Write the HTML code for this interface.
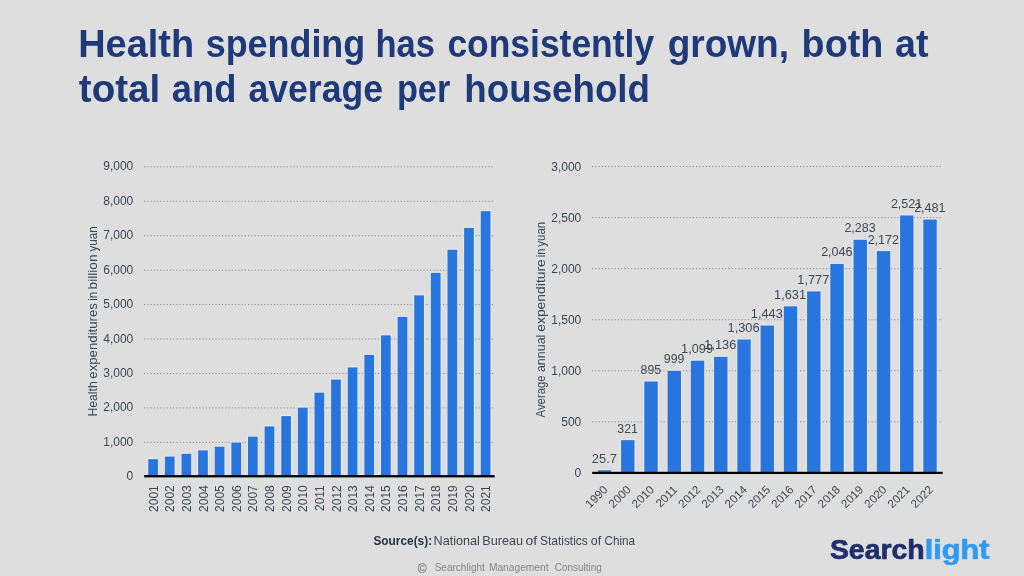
<!DOCTYPE html>
<html lang="en">
<head>
<meta charset="utf-8">
<title>Health spending has consistently grown</title>
<style>
html,body{margin:0;padding:0;}
body{width:1024px;height:576px;overflow:hidden;background:#dedede;font-family:"Liberation Sans",sans-serif;}
svg{display:block;position:absolute;left:0;top:0;}
text{font-family:"Liberation Sans",sans-serif;}
.title{font-weight:bold;font-size:38px;fill:#1f3a7a;}
.ax{font-size:12px;fill:#3f4755;}
.src{font-size:12.6px;fill:#3f4755;}
.copy{font-size:10px;fill:#868686;}
.logo{font-weight:bold;font-size:28.5px;stroke-width:0.7px;stroke-linejoin:round;}
</style>
</head>
<body>
<svg width="1024" height="576" viewBox="0 0 1024 576">
<rect x="0" y="0" width="1024" height="576" fill="#dedede"/>

<g class="title">
<text y="56.80"><tspan x="78.15" textLength="115.93" lengthAdjust="spacingAndGlyphs">Health</tspan> <tspan x="205.78" textLength="159.41" lengthAdjust="spacingAndGlyphs">spending</tspan> <tspan x="375.41" textLength="59.39" lengthAdjust="spacingAndGlyphs">has</tspan> <tspan x="447.40" textLength="206.72" lengthAdjust="spacingAndGlyphs">consistently</tspan> <tspan x="667.64" textLength="121.34" lengthAdjust="spacingAndGlyphs">grown,</tspan> <tspan x="801.62" textLength="81.66" lengthAdjust="spacingAndGlyphs">both</tspan> <tspan x="895.01" textLength="33.43" lengthAdjust="spacingAndGlyphs">at</tspan></text>
<text y="102.40"><tspan x="78.89" textLength="81.31" lengthAdjust="spacingAndGlyphs">total</tspan> <tspan x="171.84" textLength="64.61" lengthAdjust="spacingAndGlyphs">and</tspan> <tspan x="248.46" textLength="134.53" lengthAdjust="spacingAndGlyphs">average</tspan> <tspan x="396.89" textLength="53.38" lengthAdjust="spacingAndGlyphs">per</tspan> <tspan x="464.34" textLength="185.68" lengthAdjust="spacingAndGlyphs">household</tspan></text>
</g>
<g class="ax">
<line x1="144.0" y1="442.36" x2="494.8" y2="442.36" stroke="#858585" stroke-width="1" stroke-dasharray="1.1 2.15"/>
<line x1="144.0" y1="407.92" x2="494.8" y2="407.92" stroke="#858585" stroke-width="1" stroke-dasharray="1.1 2.15"/>
<line x1="144.0" y1="373.48" x2="494.8" y2="373.48" stroke="#858585" stroke-width="1" stroke-dasharray="1.1 2.15"/>
<line x1="144.0" y1="339.04" x2="494.8" y2="339.04" stroke="#858585" stroke-width="1" stroke-dasharray="1.1 2.15"/>
<line x1="144.0" y1="304.60" x2="494.8" y2="304.60" stroke="#858585" stroke-width="1" stroke-dasharray="1.1 2.15"/>
<line x1="144.0" y1="270.16" x2="494.8" y2="270.16" stroke="#858585" stroke-width="1" stroke-dasharray="1.1 2.15"/>
<line x1="144.0" y1="235.72" x2="494.8" y2="235.72" stroke="#858585" stroke-width="1" stroke-dasharray="1.1 2.15"/>
<line x1="144.0" y1="201.28" x2="494.8" y2="201.28" stroke="#858585" stroke-width="1" stroke-dasharray="1.1 2.15"/>
<line x1="144.0" y1="166.84" x2="494.8" y2="166.84" stroke="#858585" stroke-width="1" stroke-dasharray="1.1 2.15"/>
<text x="133.3" y="480.30" text-anchor="end">0</text>
<text x="133.3" y="445.86" text-anchor="end">1,000</text>
<text x="133.3" y="411.42" text-anchor="end">2,000</text>
<text x="133.3" y="376.98" text-anchor="end">3,000</text>
<text x="133.3" y="342.54" text-anchor="end">4,000</text>
<text x="133.3" y="308.10" text-anchor="end">5,000</text>
<text x="133.3" y="273.66" text-anchor="end">6,000</text>
<text x="133.3" y="239.22" text-anchor="end">7,000</text>
<text x="133.3" y="204.78" text-anchor="end">8,000</text>
<text x="133.3" y="170.34" text-anchor="end">9,000</text>
<rect x="148.26" y="459.19" width="9.7" height="17.31" fill="#2876dd" stroke="#eef2fa" stroke-opacity="0.55" stroke-width="2" paint-order="stroke"/>
<text transform="translate(157.71,485.2) rotate(-90)" text-anchor="end">2001</text>
<rect x="164.89" y="456.56" width="9.7" height="19.94" fill="#2876dd" stroke="#eef2fa" stroke-opacity="0.55" stroke-width="2" paint-order="stroke"/>
<text transform="translate(174.34,485.2) rotate(-90)" text-anchor="end">2002</text>
<rect x="181.51" y="453.82" width="9.7" height="22.68" fill="#2876dd" stroke="#eef2fa" stroke-opacity="0.55" stroke-width="2" paint-order="stroke"/>
<text transform="translate(190.96,485.2) rotate(-90)" text-anchor="end">2003</text>
<rect x="198.13" y="450.36" width="9.7" height="26.14" fill="#2876dd" stroke="#eef2fa" stroke-opacity="0.55" stroke-width="2" paint-order="stroke"/>
<text transform="translate(207.58,485.2) rotate(-90)" text-anchor="end">2004</text>
<rect x="214.76" y="446.68" width="9.7" height="29.82" fill="#2876dd" stroke="#eef2fa" stroke-opacity="0.55" stroke-width="2" paint-order="stroke"/>
<text transform="translate(224.21,485.2) rotate(-90)" text-anchor="end">2005</text>
<rect x="231.38" y="442.60" width="9.7" height="33.90" fill="#2876dd" stroke="#eef2fa" stroke-opacity="0.55" stroke-width="2" paint-order="stroke"/>
<text transform="translate(240.83,485.2) rotate(-90)" text-anchor="end">2006</text>
<rect x="248.00" y="436.64" width="9.7" height="39.86" fill="#2876dd" stroke="#eef2fa" stroke-opacity="0.55" stroke-width="2" paint-order="stroke"/>
<text transform="translate(257.45,485.2) rotate(-90)" text-anchor="end">2007</text>
<rect x="264.63" y="426.44" width="9.7" height="50.06" fill="#2876dd" stroke="#eef2fa" stroke-opacity="0.55" stroke-width="2" paint-order="stroke"/>
<text transform="translate(274.08,485.2) rotate(-90)" text-anchor="end">2008</text>
<rect x="281.25" y="416.09" width="9.7" height="60.41" fill="#2876dd" stroke="#eef2fa" stroke-opacity="0.55" stroke-width="2" paint-order="stroke"/>
<text transform="translate(290.70,485.2) rotate(-90)" text-anchor="end">2009</text>
<rect x="297.88" y="407.69" width="9.7" height="68.81" fill="#2876dd" stroke="#eef2fa" stroke-opacity="0.55" stroke-width="2" paint-order="stroke"/>
<text transform="translate(307.33,485.2) rotate(-90)" text-anchor="end">2010</text>
<rect x="314.50" y="392.65" width="9.7" height="83.85" fill="#2876dd" stroke="#eef2fa" stroke-opacity="0.55" stroke-width="2" paint-order="stroke"/>
<text transform="translate(323.95,485.2) rotate(-90)" text-anchor="end">2011</text>
<rect x="331.12" y="379.66" width="9.7" height="96.84" fill="#2876dd" stroke="#eef2fa" stroke-opacity="0.55" stroke-width="2" paint-order="stroke"/>
<text transform="translate(340.57,485.2) rotate(-90)" text-anchor="end">2012</text>
<rect x="347.75" y="367.43" width="9.7" height="109.07" fill="#2876dd" stroke="#eef2fa" stroke-opacity="0.55" stroke-width="2" paint-order="stroke"/>
<text transform="translate(357.20,485.2) rotate(-90)" text-anchor="end">2013</text>
<rect x="364.37" y="354.88" width="9.7" height="121.62" fill="#2876dd" stroke="#eef2fa" stroke-opacity="0.55" stroke-width="2" paint-order="stroke"/>
<text transform="translate(373.82,485.2) rotate(-90)" text-anchor="end">2014</text>
<rect x="381.00" y="335.38" width="9.7" height="141.12" fill="#2876dd" stroke="#eef2fa" stroke-opacity="0.55" stroke-width="2" paint-order="stroke"/>
<text transform="translate(390.45,485.2) rotate(-90)" text-anchor="end">2015</text>
<rect x="397.62" y="316.89" width="9.7" height="159.61" fill="#2876dd" stroke="#eef2fa" stroke-opacity="0.55" stroke-width="2" paint-order="stroke"/>
<text transform="translate(407.07,485.2) rotate(-90)" text-anchor="end">2016</text>
<rect x="414.24" y="295.35" width="9.7" height="181.15" fill="#2876dd" stroke="#eef2fa" stroke-opacity="0.55" stroke-width="2" paint-order="stroke"/>
<text transform="translate(423.69,485.2) rotate(-90)" text-anchor="end">2017</text>
<rect x="430.87" y="272.88" width="9.7" height="203.62" fill="#2876dd" stroke="#eef2fa" stroke-opacity="0.55" stroke-width="2" paint-order="stroke"/>
<text transform="translate(440.32,485.2) rotate(-90)" text-anchor="end">2018</text>
<rect x="447.49" y="249.74" width="9.7" height="226.76" fill="#2876dd" stroke="#eef2fa" stroke-opacity="0.55" stroke-width="2" paint-order="stroke"/>
<text transform="translate(456.94,485.2) rotate(-90)" text-anchor="end">2019</text>
<rect x="464.11" y="227.93" width="9.7" height="248.57" fill="#2876dd" stroke="#eef2fa" stroke-opacity="0.55" stroke-width="2" paint-order="stroke"/>
<text transform="translate(473.56,485.2) rotate(-90)" text-anchor="end">2020</text>
<rect x="480.74" y="211.14" width="9.7" height="265.36" fill="#2876dd" stroke="#eef2fa" stroke-opacity="0.55" stroke-width="2" paint-order="stroke"/>
<text transform="translate(490.19,485.2) rotate(-90)" text-anchor="end">2021</text>
<rect x="144.2" y="475.1" width="350.5" height="2.3" fill="#000"/>
<text transform="translate(97.00,416.30) rotate(-90)" y="0"><tspan x="-0.32" textLength="35.37" lengthAdjust="spacingAndGlyphs">Health</tspan> <tspan x="37.65" textLength="75.57" lengthAdjust="spacingAndGlyphs">expenditures</tspan> <tspan x="115.57" textLength="9.04" lengthAdjust="spacingAndGlyphs">in</tspan> <tspan x="126.90" textLength="34.88" lengthAdjust="spacingAndGlyphs">billion</tspan> <tspan x="164.70" textLength="25.26" lengthAdjust="spacingAndGlyphs">yuan</tspan></text>
</g>
<g class="ax">
<line x1="592.0" y1="421.84" x2="942.8" y2="421.84" stroke="#858585" stroke-width="1" stroke-dasharray="1.1 2.15"/>
<line x1="592.0" y1="370.78" x2="942.8" y2="370.78" stroke="#858585" stroke-width="1" stroke-dasharray="1.1 2.15"/>
<line x1="592.0" y1="319.72" x2="942.8" y2="319.72" stroke="#858585" stroke-width="1" stroke-dasharray="1.1 2.15"/>
<line x1="592.0" y1="268.66" x2="942.8" y2="268.66" stroke="#858585" stroke-width="1" stroke-dasharray="1.1 2.15"/>
<line x1="592.0" y1="217.60" x2="942.8" y2="217.60" stroke="#858585" stroke-width="1" stroke-dasharray="1.1 2.15"/>
<line x1="592.0" y1="166.54" x2="942.8" y2="166.54" stroke="#858585" stroke-width="1" stroke-dasharray="1.1 2.15"/>
<text x="581.3" y="477.10" text-anchor="end">0</text>
<text x="581.3" y="426.04" text-anchor="end">500</text>
<text x="581.3" y="374.98" text-anchor="end">1,000</text>
<text x="581.3" y="323.92" text-anchor="end">1,500</text>
<text x="581.3" y="272.86" text-anchor="end">2,000</text>
<text x="581.3" y="221.80" text-anchor="end">2,500</text>
<text x="581.3" y="170.74" text-anchor="end">3,000</text>
<rect x="597.82" y="470.28" width="13.4" height="2.62" fill="#2876dd" stroke="#eef2fa" stroke-opacity="0.55" stroke-width="2" paint-order="stroke"/>
<text x="591.89" y="462.78" textLength="24.99" lengthAdjust="spacingAndGlyphs">25.7</text>
<text transform="translate(608.32,490.4) rotate(-45)" text-anchor="end" font-size="11.6">1990</text>
<rect x="621.07" y="440.12" width="13.4" height="32.78" fill="#2876dd" stroke="#eef2fa" stroke-opacity="0.55" stroke-width="2" paint-order="stroke"/>
<text x="617.31" y="432.62" textLength="20.56" lengthAdjust="spacingAndGlyphs">321</text>
<text transform="translate(631.57,490.4) rotate(-45)" text-anchor="end" font-size="11.6">2000</text>
<rect x="644.32" y="381.50" width="13.4" height="91.40" fill="#2876dd" stroke="#eef2fa" stroke-opacity="0.55" stroke-width="2" paint-order="stroke"/>
<text x="640.56" y="374.00" textLength="20.56" lengthAdjust="spacingAndGlyphs">895</text>
<text transform="translate(654.82,490.4) rotate(-45)" text-anchor="end" font-size="11.6">2010</text>
<rect x="667.57" y="370.88" width="13.4" height="102.02" fill="#2876dd" stroke="#eef2fa" stroke-opacity="0.55" stroke-width="2" paint-order="stroke"/>
<text x="663.81" y="363.38" textLength="20.56" lengthAdjust="spacingAndGlyphs">999</text>
<text transform="translate(678.07,490.4) rotate(-45)" text-anchor="end" font-size="11.6">2011</text>
<rect x="690.82" y="360.67" width="13.4" height="112.23" fill="#2876dd" stroke="#eef2fa" stroke-opacity="0.55" stroke-width="2" paint-order="stroke"/>
<text x="681.11" y="353.17" textLength="31.93" lengthAdjust="spacingAndGlyphs">1,099</text>
<text transform="translate(701.32,490.4) rotate(-45)" text-anchor="end" font-size="11.6">2012</text>
<rect x="714.07" y="356.89" width="13.4" height="116.01" fill="#2876dd" stroke="#eef2fa" stroke-opacity="0.55" stroke-width="2" paint-order="stroke"/>
<text x="704.36" y="349.39" textLength="31.93" lengthAdjust="spacingAndGlyphs">1,136</text>
<text transform="translate(724.57,490.4) rotate(-45)" text-anchor="end" font-size="11.6">2013</text>
<rect x="737.32" y="339.53" width="13.4" height="133.37" fill="#2876dd" stroke="#eef2fa" stroke-opacity="0.55" stroke-width="2" paint-order="stroke"/>
<text x="727.61" y="332.03" textLength="31.93" lengthAdjust="spacingAndGlyphs">1,306</text>
<text transform="translate(747.82,490.4) rotate(-45)" text-anchor="end" font-size="11.6">2014</text>
<rect x="760.57" y="325.54" width="13.4" height="147.36" fill="#2876dd" stroke="#eef2fa" stroke-opacity="0.55" stroke-width="2" paint-order="stroke"/>
<text x="750.86" y="318.04" textLength="31.93" lengthAdjust="spacingAndGlyphs">1,443</text>
<text transform="translate(771.07,490.4) rotate(-45)" text-anchor="end" font-size="11.6">2015</text>
<rect x="783.82" y="306.34" width="13.4" height="166.56" fill="#2876dd" stroke="#eef2fa" stroke-opacity="0.55" stroke-width="2" paint-order="stroke"/>
<text x="774.11" y="298.84" textLength="31.93" lengthAdjust="spacingAndGlyphs">1,631</text>
<text transform="translate(794.32,490.4) rotate(-45)" text-anchor="end" font-size="11.6">2016</text>
<rect x="807.07" y="291.43" width="13.4" height="181.47" fill="#2876dd" stroke="#eef2fa" stroke-opacity="0.55" stroke-width="2" paint-order="stroke"/>
<text x="797.36" y="283.93" textLength="31.93" lengthAdjust="spacingAndGlyphs">1,777</text>
<text transform="translate(817.57,490.4) rotate(-45)" text-anchor="end" font-size="11.6">2017</text>
<rect x="830.32" y="263.96" width="13.4" height="208.94" fill="#2876dd" stroke="#eef2fa" stroke-opacity="0.55" stroke-width="2" paint-order="stroke"/>
<text x="821.15" y="256.46" textLength="31.38" lengthAdjust="spacingAndGlyphs">2,046</text>
<text transform="translate(840.82,490.4) rotate(-45)" text-anchor="end" font-size="11.6">2018</text>
<rect x="853.57" y="239.76" width="13.4" height="233.14" fill="#2876dd" stroke="#eef2fa" stroke-opacity="0.55" stroke-width="2" paint-order="stroke"/>
<text x="844.40" y="232.26" textLength="31.38" lengthAdjust="spacingAndGlyphs">2,283</text>
<text transform="translate(864.07,490.4) rotate(-45)" text-anchor="end" font-size="11.6">2019</text>
<rect x="876.82" y="251.10" width="13.4" height="221.80" fill="#2876dd" stroke="#eef2fa" stroke-opacity="0.55" stroke-width="2" paint-order="stroke"/>
<text x="867.65" y="243.60" textLength="31.38" lengthAdjust="spacingAndGlyphs">2,172</text>
<text transform="translate(887.32,490.4) rotate(-45)" text-anchor="end" font-size="11.6">2020</text>
<rect x="900.07" y="215.46" width="13.4" height="257.44" fill="#2876dd" stroke="#eef2fa" stroke-opacity="0.55" stroke-width="2" paint-order="stroke"/>
<text x="890.90" y="207.96" textLength="31.38" lengthAdjust="spacingAndGlyphs">2,521</text>
<text transform="translate(910.57,490.4) rotate(-45)" text-anchor="end" font-size="11.6">2021</text>
<rect x="923.32" y="219.54" width="13.4" height="253.36" fill="#2876dd" stroke="#eef2fa" stroke-opacity="0.55" stroke-width="2" paint-order="stroke"/>
<text x="914.15" y="212.04" textLength="31.38" lengthAdjust="spacingAndGlyphs">2,481</text>
<text transform="translate(933.82,490.4) rotate(-45)" text-anchor="end" font-size="11.6">2022</text>
<rect x="592.2" y="471.8" width="350.5" height="2.2" fill="#000"/>
<text transform="translate(545.00,418.30) rotate(-90)" y="0"><tspan x="0.80" textLength="42.16" lengthAdjust="spacingAndGlyphs">Average</tspan> <tspan x="46.23" textLength="37.45" lengthAdjust="spacingAndGlyphs">annual</tspan> <tspan x="86.52" textLength="72.62" lengthAdjust="spacingAndGlyphs">expenditure</tspan> <tspan x="161.01" textLength="8.56" lengthAdjust="spacingAndGlyphs">in</tspan> <tspan x="171.60" textLength="24.85" lengthAdjust="spacingAndGlyphs">yuan</tspan></text>
</g>
<g class="src">
<text x="373.43" y="544.70" textLength="58.68" lengthAdjust="spacingAndGlyphs" font-weight="bold" fill="#273142">Source(s):</text>
<text y="544.70"><tspan x="433.55" textLength="46.37" lengthAdjust="spacingAndGlyphs">National</tspan> <tspan x="482.30" textLength="40.78" lengthAdjust="spacingAndGlyphs">Bureau</tspan> <tspan x="525.54" textLength="11.67" lengthAdjust="spacingAndGlyphs">of</tspan> <tspan x="539.89" textLength="47.99" lengthAdjust="spacingAndGlyphs">Statistics</tspan> <tspan x="590.80" textLength="10.41" lengthAdjust="spacingAndGlyphs">of</tspan> <tspan x="604.60" textLength="30.51" lengthAdjust="spacingAndGlyphs">China</tspan></text>
</g>
<g class="copy">
<text x="417.7" y="572.6" font-size="12" stroke="#868686" stroke-width="0.25">©</text>
<text y="571.30"><tspan x="434.70" textLength="50.13" lengthAdjust="spacingAndGlyphs">Searchlight</tspan> <tspan x="488.93" textLength="59.59" lengthAdjust="spacingAndGlyphs">Management</tspan> <tspan x="554.70" textLength="47.06" lengthAdjust="spacingAndGlyphs">Consulting</tspan></text>
</g>
<g class="logo">
<text y="559.20"><tspan x="829.90" textLength="94.80" lengthAdjust="spacingAndGlyphs" fill="#1f2f6e" stroke="#1f2f6e">Search</tspan><tspan x="924.75" textLength="64.79" lengthAdjust="spacingAndGlyphs" fill="#2f9bf2" stroke="#2f9bf2">light</tspan></text>
</g>
</svg>
</body>
</html>
